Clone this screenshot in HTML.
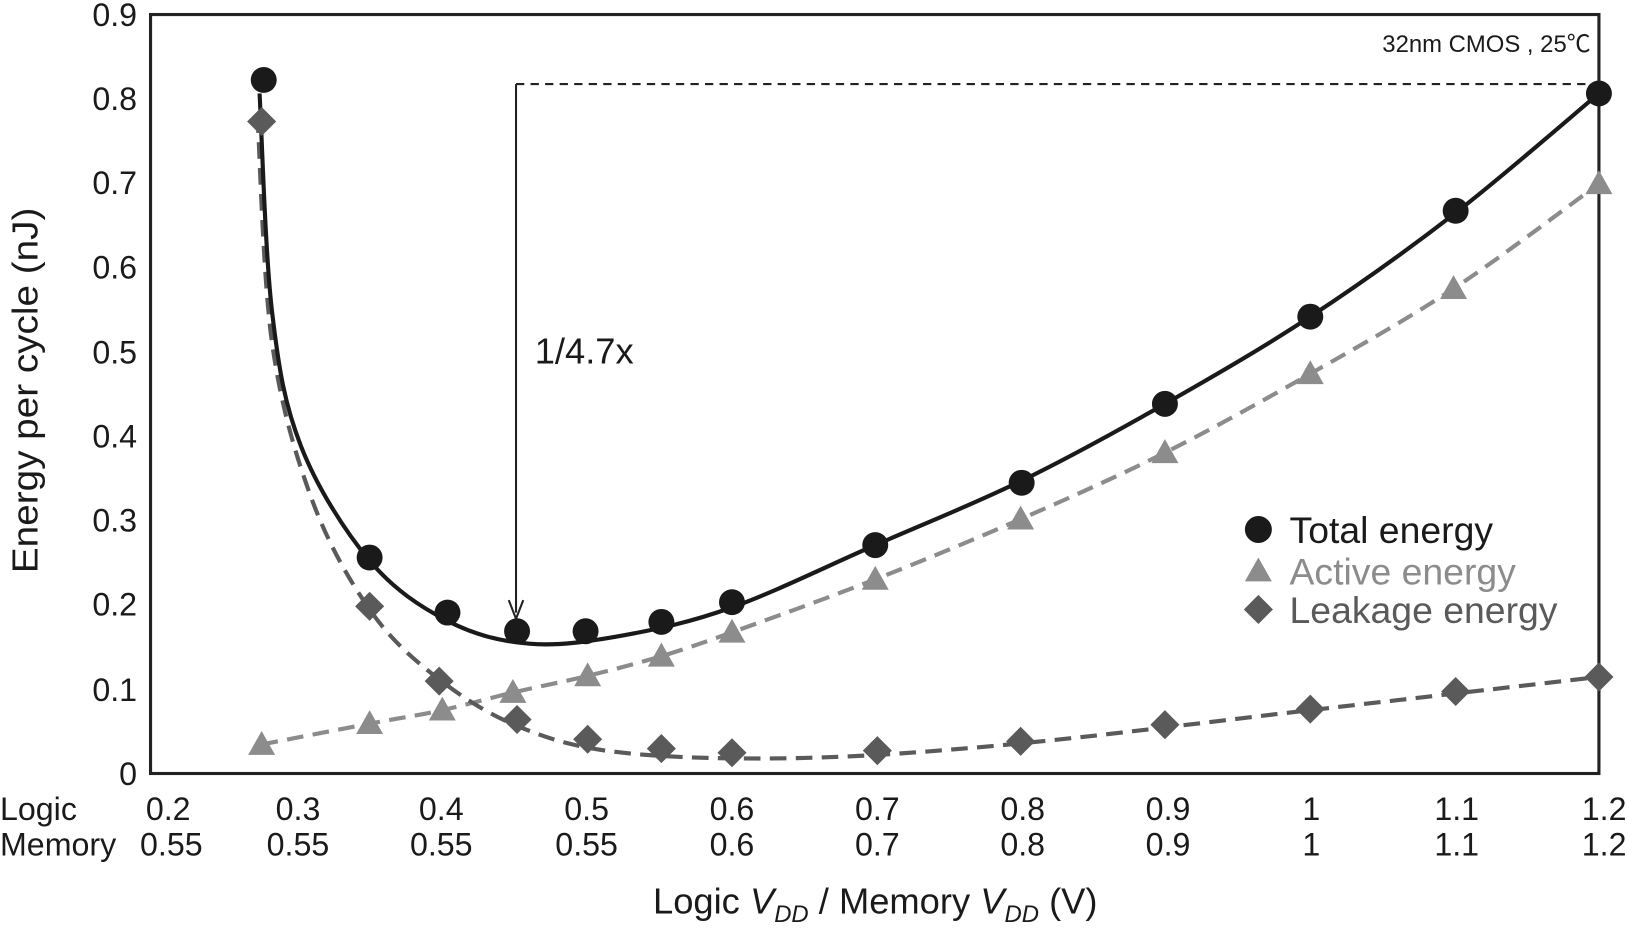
<!DOCTYPE html>
<html><head><meta charset="utf-8"><style>
html,body{margin:0;padding:0;background:#fff}
svg{display:block}
text{font-family:"Liberation Sans","Noto Sans CJK JP",sans-serif;fill:#1a1a1a}
</style></head><body>
<svg id="s" width="1628" height="928" viewBox="0 0 1568 893.8" xmlns="http://www.w3.org/2000/svg">
<rect x="145" y="14" width="1395" height="731" fill="none" stroke="#222" stroke-width="3"/>
<g font-size="31" text-anchor="end">
<text x="132" y="25">0.9</text><text x="132" y="106">0.8</text><text x="132" y="187">0.7</text>
<text x="132" y="268">0.6</text><text x="132" y="350">0.5</text><text x="132" y="431">0.4</text>
<text x="132" y="512">0.3</text><text x="132" y="593">0.2</text><text x="132" y="675">0.1</text>
<text x="132" y="756">0</text>
</g>
<text transform="translate(36,376) rotate(-90)" font-size="35" text-anchor="middle" textLength="352" lengthAdjust="spacingAndGlyphs">Energy per cycle (nJ)</text>
<g font-size="31" text-anchor="middle">
<text x="0" y="790" text-anchor="start">Logic</text>
<text x="0" y="824" text-anchor="start">Memory</text>
<text x="162" y="790">0.2</text><text x="165" y="824">0.55</text>
<text x="287" y="790">0.3</text><text x="287" y="824">0.55</text>
<text x="425" y="790">0.4</text><text x="425" y="824">0.55</text>
<text x="565" y="790">0.5</text><text x="565" y="824">0.55</text>
<text x="705" y="790">0.6</text><text x="705" y="824">0.6</text>
<text x="845" y="790">0.7</text><text x="845" y="824">0.7</text>
<text x="985" y="790">0.8</text><text x="985" y="824">0.8</text>
<text x="1125" y="790">0.9</text><text x="1125" y="824">0.9</text>
<text x="1263" y="790">1</text><text x="1263" y="824">1</text>
<text x="1403" y="790">1.1</text><text x="1403" y="824">1.1</text>
<text x="1545" y="790">1.2</text><text x="1545" y="824">1.2</text>
</g>
<text x="843" y="880" font-size="35" text-anchor="middle">Logic <tspan font-style="italic">V</tspan><tspan font-style="italic" font-size="23" dy="8">DD</tspan><tspan dy="-8"> / Memory </tspan><tspan font-style="italic">V</tspan><tspan font-style="italic" font-size="23" dy="8">DD</tspan><tspan dy="-8"> (V)</tspan></text>
<text x="1532" y="50" font-size="23" text-anchor="end">32nm CMOS , 25℃</text>
<line x1="497" y1="81" x2="1540" y2="81" stroke="#222" stroke-width="2" stroke-dasharray="8,6"/>
<line x1="497" y1="81" x2="497" y2="590" stroke="#222" stroke-width="2"/>
<path d="M490,578 L497,596 L504,578" fill="none" stroke="#222" stroke-width="2"/>
<text x="515" y="350" font-size="35">1/4.7x</text>
<g id="curves"></g>
<g id="marks"></g>
<circle cx="1212" cy="510" r="13" fill="#1a1a1a"/>
<polygon points="1212,537 1225,560 1199,560" fill="#8c8c8c"/>
<polygon points="1212,573 1226,587 1212,601 1198,587" fill="#5a5a5a"/>
<g font-size="36">
<text x="1242" y="523">Total energy</text>
<text x="1242" y="563" style="fill:#8c8c8c">Active energy</text>
<text x="1242" y="600" style="fill:#5a5a5a">Leakage energy</text>
</g>
</svg>
<script>
function cr(p){let d="M"+p[0][0]+","+p[0][1];for(let i=0;i<p.length-1;i++){const a=p[i-1]||p[i],b=p[i],c=p[i+1],e=p[i+2]||c;d+=" C"+(b[0]+(c[0]-a[0])/6)+","+(b[1]+(c[1]-a[1])/6)+" "+(c[0]-(e[0]-b[0])/6)+","+(c[1]-(e[1]-b[1])/6)+" "+c[0]+","+c[1];}return d;}
const NS="http://www.w3.org/2000/svg";
function el(t,a,par){const e=document.createElementNS(NS,t);for(const k in a)e.setAttribute(k,a[k]);document.getElementById(par).appendChild(e);}
const totC=[[250,90],[262,300],[290,430],[356,540],[431,598],[510,620],[600,612],[705,585],[843,525],[984,463],[1122,389],[1262,305],[1402,205],[1540,90]];
const leakC=[[248,112],[262,330],[300,480],[356,587],[420,652],[500,700],[600,725],[775,730],[983,716],[1262,684],[1540,652]];
const tot=[[254,77],[356,537],[431,590],[498,608],[564,608],[637,599],[705,580],[843,525],[984,465],[1122,389],[1262,305],[1402,203],[1540,90]];
const act=[[252,717],[356,697],[426,684],[494,667],[566,651],[637,632],[705,609],[843,558],[983,500],[1122,436],[1262,360],[1400,278],[1540,177]];
const leak=[[252,117],[356,584],[423,656],[498,693],[566,712],[637,721],[705,725],[845,723],[983,714],[1122,698],[1262,683],[1402,666],[1540,652]];
el("path",{d:cr(act),fill:"none",stroke:"#8c8c8c","stroke-width":4,"stroke-dasharray":"16,9"},"curves");
el("path",{d:cr(leakC),fill:"none",stroke:"#5a5a5a","stroke-width":4,"stroke-dasharray":"16,9"},"curves");
el("path",{d:cr(totC),fill:"none",stroke:"#1a1a1a","stroke-width":4},"curves");
act.forEach(([x,y])=>el("polygon",{points:`${x},${y-13} ${x+13},${y+10} ${x-13},${y+10}`,fill:"#8c8c8c"},"marks"));
leak.forEach(([x,y])=>el("polygon",{points:`${x},${y-14} ${x+14},${y} ${x},${y+14} ${x-14},${y}`,fill:"#5a5a5a"},"marks"));
tot.forEach(([x,y])=>el("circle",{cx:x,cy:y,r:12.5,fill:"#1a1a1a"},"marks"));
</script>
</body></html>
